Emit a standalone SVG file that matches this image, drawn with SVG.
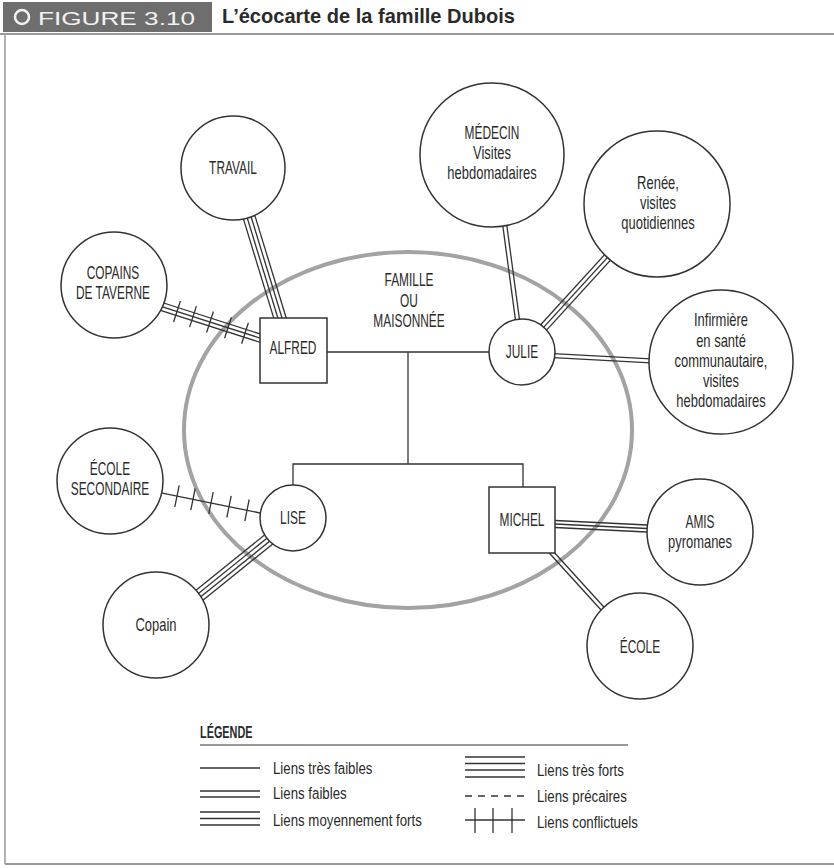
<svg xmlns="http://www.w3.org/2000/svg" width="834" height="868" viewBox="0 0 834 868">
<style>
  text { font-family: "Liberation Sans Narrow", "Liberation Sans", Arial, sans-serif; fill: #2a2a2a; }
  .lbl { font-size: 18px; text-anchor: middle; }
  .leg { font-size: 17px; }
  .node { fill: #fff; stroke: #333; stroke-width: 1.5; }
  .ln { stroke: #333; stroke-width: 1.3; fill: none; stroke-linecap: butt; }
  .tk { stroke: #333; stroke-width: 1.3; }
</style>
<rect x="0" y="0" width="834" height="868" fill="#fff"/>

<g id="header">
  <rect x="3" y="2" width="209" height="30" fill="#6e6e6e"/>
  <circle cx="22" cy="17" r="7" fill="none" stroke="#f2f2f2" stroke-width="2.5"/>
  <text x="38" y="25" font-size="19" textLength="157" lengthAdjust="spacingAndGlyphs" style="fill:#f2f2f2;font-family:'Liberation Sans',sans-serif">FIGURE 3.10</text>
  <text x="222" y="23" font-size="21" font-weight="bold" textLength="293" lengthAdjust="spacingAndGlyphs">L’écocarte de la famille Dubois</text>
  <line x1="0" y1="34" x2="834" y2="34" stroke="#9a9a9a" stroke-width="2"/>
  <line x1="5" y1="34" x2="5" y2="864" stroke="#9a9a9a" stroke-width="1.5"/>
  <line x1="5" y1="864" x2="834" y2="864" stroke="#9a9a9a" stroke-width="2"/>
</g>

<g id="famille">
  <ellipse cx="408" cy="430" rx="224" ry="178" fill="none" stroke="#a3a3a3" stroke-width="4"/>
  <text class="lbl" transform="translate(409 286) scale(0.66 1)">FAMILLE</text>
  <text class="lbl" transform="translate(409 307) scale(0.66 1)">OU</text>
  <text class="lbl" transform="translate(409 327) scale(0.66 1)">MAISONNÉE</text>
</g>

<g id="connectors">
  <line class="ln" x1="327" y1="352" x2="489" y2="352"/>
  <polyline class="ln" points="408,352 408,464"/>
  <polyline class="ln" points="293,485 293,464 523,464 523,487"/>
  <line class="ln" x1="251.6" y1="204.8" x2="288.6" y2="325.8"/>
  <line class="ln" x1="247.8" y1="206.0" x2="284.8" y2="327.0"/>
  <line class="ln" x1="244.0" y1="207.2" x2="281.0" y2="328.2"/>
  <line class="ln" x1="240.2" y1="208.4" x2="277.2" y2="329.4"/>
  <line class="ln" x1="152.8" y1="299.5" x2="270.7" y2="337.3"/>
  <line class="ln" x1="151.6" y1="303.3" x2="269.5" y2="341.1"/>
  <line class="ln" x1="150.4" y1="307.1" x2="268.3" y2="344.9"/>
  <line class="tk" x1="180.4" y1="301.0" x2="173.6" y2="322.0"/>
  <line class="tk" x1="196.4" y1="306.1" x2="189.6" y2="327.1"/>
  <line class="tk" x1="213.4" y1="311.5" x2="206.6" y2="332.5"/>
  <line class="tk" x1="231.4" y1="317.3" x2="224.6" y2="338.3"/>
  <line class="tk" x1="248.4" y1="322.7" x2="241.6" y2="343.7"/>
  <line class="ln" x1="505.4" y1="214.8" x2="521.1" y2="331.6"/>
  <line class="ln" x1="501.4" y1="215.4" x2="517.1" y2="332.2"/>
  <line class="ln" x1="618.1" y1="251.8" x2="537.9" y2="339.6"/>
  <line class="ln" x1="615.1" y1="249.1" x2="534.9" y2="336.9"/>
  <line class="ln" x1="612.2" y1="246.4" x2="532.0" y2="334.2"/>
  <line class="ln" x1="544.1" y1="353.2" x2="660.1" y2="359.3"/>
  <line class="ln" x1="543.9" y1="357.2" x2="659.9" y2="363.3"/>
  <line class="ln" x1="150" y1="490.6" x2="270" y2="515"/>
  <line class="tk" x1="179.2" y1="485.3" x2="174.8" y2="506.9"/>
  <line class="tk" x1="195.2" y1="488.5" x2="190.8" y2="510.1"/>
  <line class="tk" x1="213.2" y1="492.2" x2="208.8" y2="513.8"/>
  <line class="tk" x1="231.2" y1="495.9" x2="226.8" y2="517.5"/>
  <line class="tk" x1="249.2" y1="499.5" x2="244.8" y2="521.1"/>
  <line class="ln" x1="281.1" y1="537.2" x2="195.5" y2="606.2"/>
  <line class="ln" x1="278.6" y1="534.1" x2="193.0" y2="603.1"/>
  <line class="ln" x1="276.0" y1="530.9" x2="190.4" y2="599.9"/>
  <line class="ln" x1="273.5" y1="527.8" x2="187.9" y2="596.8"/>
  <line class="ln" x1="545.2" y1="520" x2="657.2" y2="525.5"/>
  <line class="ln" x1="545" y1="523.5" x2="657" y2="529"/>
  <line class="ln" x1="544.8" y1="527" x2="656.8" y2="532.5"/>
  <line class="ln" x1="543.8" y1="547.0" x2="607.2" y2="616.7"/>
  <line class="ln" x1="546.8" y1="544.2" x2="610.2" y2="614.0"/>
</g>

<g id="travail">
  <circle class="node" cx="233" cy="168" r="52"/>
  <text class="lbl" transform="translate(233 174) scale(0.66 1)">TRAVAIL</text>
</g>
<g id="copains-taverne">
  <circle class="node" cx="114" cy="285" r="53"/>
  <text class="lbl" transform="translate(113 279) scale(0.66 1)">COPAINS</text>
  <text class="lbl" transform="translate(113 299) scale(0.66 1)">DE TAVERNE</text>
</g>
<g id="alfred">
  <rect class="node" x="260" y="318" width="67" height="65"/>
  <text class="lbl" transform="translate(293 354) scale(0.66 1)">ALFRED</text>
</g>
<g id="medecin">
  <circle class="node" cx="492" cy="155" r="72"/>
  <text class="lbl" transform="translate(492 139) scale(0.66 1)">MÉDECIN</text>
  <text class="lbl" transform="translate(492 159) scale(0.72 1)">Visites</text>
  <text class="lbl" transform="translate(492 179) scale(0.72 1)">hebdomadaires</text>
</g>
<g id="renee">
  <circle class="node" cx="657" cy="204" r="73"/>
  <text class="lbl" transform="translate(658 189) scale(0.72 1)">Renée,</text>
  <text class="lbl" transform="translate(658 209) scale(0.72 1)">visites</text>
  <text class="lbl" transform="translate(658 229) scale(0.72 1)">quotidiennes</text>
</g>
<g id="infirmiere">
  <circle class="node" cx="721" cy="362" r="72"/>
  <text class="lbl" transform="translate(721 326) scale(0.72 1)">Infirmière</text>
  <text class="lbl" transform="translate(721 347) scale(0.72 1)">en santé</text>
  <text class="lbl" transform="translate(721 367) scale(0.72 1)">communautaire,</text>
  <text class="lbl" transform="translate(721 387) scale(0.72 1)">visites</text>
  <text class="lbl" transform="translate(721 407) scale(0.72 1)">hebdomadaires</text>
</g>
<g id="julie">
  <circle class="node" cx="522" cy="352" r="33"/>
  <text class="lbl" transform="translate(522 358) scale(0.66 1)">JULIE</text>
</g>
<g id="ecole-secondaire">
  <circle class="node" cx="110" cy="481" r="53"/>
  <text class="lbl" transform="translate(110 475) scale(0.66 1)">ÉCOLE</text>
  <text class="lbl" transform="translate(110 495) scale(0.66 1)">SECONDAIRE</text>
</g>
<g id="lise">
  <circle class="node" cx="293" cy="518" r="33"/>
  <text class="lbl" transform="translate(293 524) scale(0.66 1)">LISE</text>
</g>
<g id="copain">
  <circle class="node" cx="156" cy="625" r="53"/>
  <text class="lbl" transform="translate(156 631) scale(0.72 1)">Copain</text>
</g>
<g id="michel">
  <rect class="node" x="489" y="487" width="66" height="66"/>
  <text class="lbl" transform="translate(522 526) scale(0.66 1)">MICHEL</text>
</g>
<g id="amis">
  <circle class="node" cx="700" cy="532" r="53"/>
  <text class="lbl" transform="translate(700 528) scale(0.66 1)">AMIS</text>
  <text class="lbl" transform="translate(700 548) scale(0.72 1)">pyromanes</text>
</g>
<g id="ecole">
  <circle class="node" cx="640" cy="646" r="53"/>
  <text class="lbl" transform="translate(640 653) scale(0.66 1)">ÉCOLE</text>
</g>

<g id="legende">
  <text transform="translate(200 738) scale(0.68 1)" font-size="16" font-weight="bold">LÉGENDE</text>
  <line x1="200" y1="745" x2="628" y2="745" stroke="#999" stroke-width="2"/>
  <line class="ln" x1="200" y1="768" x2="260" y2="768"/>
  <line class="ln" x1="200" y1="791" x2="260" y2="791"/>
  <line class="ln" x1="200" y1="797" x2="260" y2="797"/>
  <line class="ln" x1="200" y1="812" x2="260" y2="812"/>
  <line class="ln" x1="200" y1="818.5" x2="260" y2="818.5"/>
  <line class="ln" x1="200" y1="825" x2="260" y2="825"/>
  <text class="leg" transform="translate(273 774) scale(0.78 1)">Liens très faibles</text>
  <text class="leg" transform="translate(273 799) scale(0.78 1)">Liens faibles</text>
  <text class="leg" transform="translate(273 826) scale(0.78 1)">Liens moyennement forts</text>
  <line class="ln" x1="465" y1="757" x2="525" y2="757"/>
  <line class="ln" x1="465" y1="763.5" x2="525" y2="763.5"/>
  <line class="ln" x1="465" y1="770" x2="525" y2="770"/>
  <line class="ln" x1="465" y1="777" x2="525" y2="777"/>
  <line class="ln" x1="465" y1="796" x2="525" y2="796" stroke-dasharray="7 6"/>
  <line class="ln" x1="465" y1="820" x2="525" y2="820"/>
  <line class="tk" x1="475" y1="808" x2="475" y2="833"/>
  <line class="tk" x1="493" y1="808" x2="493" y2="833"/>
  <line class="tk" x1="512" y1="808" x2="512" y2="833"/>
  <text class="leg" transform="translate(537 776) scale(0.78 1)">Liens très forts</text>
  <text class="leg" transform="translate(537 802) scale(0.78 1)">Liens précaires</text>
  <text class="leg" transform="translate(537 828) scale(0.78 1)">Liens conflictuels</text>
</g>
</svg>
